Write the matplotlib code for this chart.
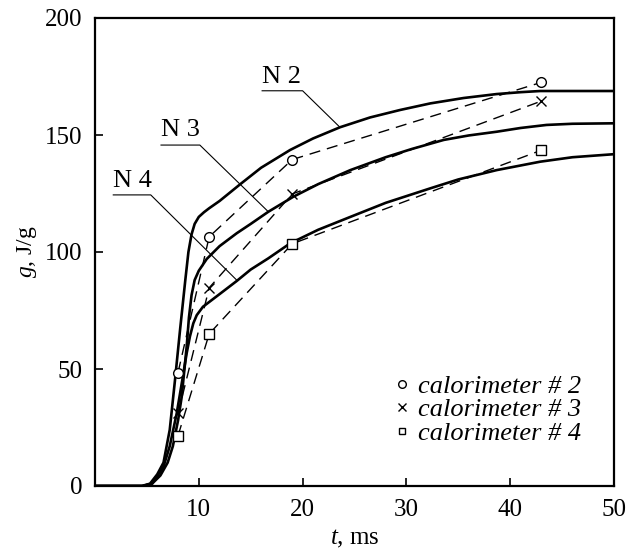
import matplotlib
matplotlib.use("Agg")
import matplotlib.pyplot as plt
from matplotlib.lines import Line2D

plt.rcParams['font.family'] = ['Liberation Serif', 'DejaVu Serif']
plt.rcParams['mathtext.fontset'] = 'custom'
plt.rcParams['mathtext.rm'] = 'Liberation Serif'
plt.rcParams['mathtext.it'] = 'Liberation Serif:italic'

# ---- data: model curves ----
t_n2 = [0, 4.5, 5.3, 6.0, 6.6, 7.2, 7.7, 8.2, 8.7, 9.0, 9.3, 9.6, 10.0, 10.5, 11.0, 12, 14, 16, 18.8, 21, 23.6, 26.5, 29.4, 32.3, 35.5, 38.7, 41, 42.9, 50]
g_n2 = [0, 0, 1, 5, 10, 24, 45, 67, 88, 100, 107.5, 112, 115, 117, 118.7, 121.8, 129, 136, 143.6, 148.5, 153.3, 157.5, 160.7, 163.5, 165.8, 167.5, 168.3, 168.8, 168.8]

t_n3 = [0, 4.6, 5.5, 6.3, 7.0, 7.5, 8.0, 8.35, 8.83, 9.05, 9.3, 9.6, 10.0, 10.76, 12, 13.65, 15, 16.7, 19.1, 21.5, 24.6, 28, 30.5, 33.6, 36, 38.7, 41, 43.5, 46, 50]
g_n3 = [0, 0, 1, 4.5, 10, 17, 28, 38, 59.5, 72, 81.5, 88, 92, 97, 102.5, 108, 112, 117.2, 123.6, 129, 135, 140.5, 144, 147.9, 149.8, 151.4, 153, 154.3, 154.8, 155]

t_n4 = [0, 4.6, 5.5, 6.58, 7.2, 7.87, 8.4, 8.83, 9.15, 9.47, 9.8, 10.4, 12, 13.65, 15, 16.7, 18.8, 21.5, 24.6, 28, 32.3, 35, 38.7, 42.9, 46, 50]
g_n4 = [0, 0, 1, 8, 17, 31, 45, 56.7, 64, 69.5, 73, 76.6, 82, 87.6, 92.5, 97.3, 103.7, 109.5, 115, 121, 127.2, 131, 135, 138.6, 140.5, 141.8]

# ---- data: calorimeter measurements ----
t_meas = [8, 11, 19, 43]
g_cal2 = [48.5, 106.5, 139.5, 172.5]
g_cal3 = [31, 84.7, 124.8, 164.5]
g_cal4 = [21.5, 65, 103.5, 143.5]

cal_labels = ['calorimeter # 2', 'calorimeter # 3', 'calorimeter # 4']
curve_labels = ['N 2', 'N 3', 'N 4']
# label text position, underline start/end, leader end (data coords)
lab_text = [(18.0, 174.8), (8.2, 152.3), (3.6, 130.3)]
lab_line = [(16.1, 20.0, 168.9), (6.36, 10.1, 145.7), (1.76, 5.37, 124.4)]
lab_lead = [(23.6, 153.3), (16.7, 117.2), (13.65, 88.0)]

x_ticks = [10, 20, 30, 40, 50]
y_ticks = [0, 50, 100, 150, 200]

fig = plt.figure(figsize=(6.39, 5.5), dpi=100)
ax = fig.add_axes([95/639, 1-486/550, (614-95)/639, (486-18)/550])

for t, g in [(t_n2, g_n2), (t_n3, g_n3), (t_n4, g_n4)]:
    ax.plot(t, g, color='black', lw=1.9, solid_joinstyle='round')

markers = ['o', 'x', 's']
for g, m, lab in zip([g_cal2, g_cal3, g_cal4], markers, cal_labels):
    ax.plot(t_meas, g, color='black', lw=1.0, ls=(0, (8, 5)))
    ax.plot(t_meas, g, ls='none', marker=m, ms=7 if m != 's' else 6.5,
            mfc='white', mec='black', mew=1.0, label=lab)

for txt, (tx, ty), (x0, x1, yl), (lx, ly) in zip(curve_labels, lab_text, lab_line, lab_lead):
    ax.text(tx, ty, txt, fontsize=19, ha='center', va='center')
    ax.plot([x0, x1, lx], [yl, yl, ly], color='black', lw=0.8)

handles = [Line2D([], [], ls='none', marker=m, ms=5.5 if m != 's' else 5, mfc='white',
                  mec='black', mew=1.0) for m in markers]
leg = ax.legend(handles, cal_labels, loc='center', bbox_to_anchor=(0.757, 0.163),
                frameon=False, handlelength=0.5, handletextpad=0.35, labelspacing=0.0,
                prop={'family': 'Liberation Serif', 'style': 'italic', 'size': 19})

ax.set_xlim(0, 50)
ax.set_ylim(0, 200)
ax.set_xticks(x_ticks)
ax.set_yticks(y_ticks)
ax.tick_params(direction='in', length=6, width=1.2, labelsize=18, pad=9)
for s in ax.spines.values():
    s.set_linewidth(1.6)

ax.set_xlabel(r'$t$, ms', fontsize=18, labelpad=5)
ax.set_ylabel(r'$g$, J/g', fontsize=17, labelpad=4)

fig.savefig('out.png', dpi=100)
